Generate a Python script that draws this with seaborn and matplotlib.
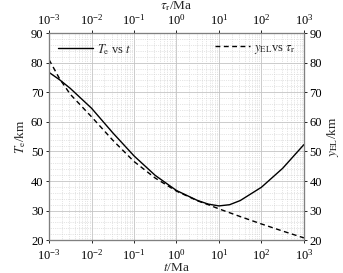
import numpy as np
import pandas as pd
import matplotlib
matplotlib.use("Agg")
import matplotlib.pyplot as plt
import seaborn as sns
from matplotlib.ticker import LogLocator, MultipleLocator

# Data (log10 of time in Ma, thickness in km)
t_log = [-3, -2.75, -2.5, -2, -1.5, -1, -0.5, 0, 0.5, 0.75, 1, 1.25, 1.5, 2, 2.5, 3]
Te_km = [76.7, 74.2, 71.3, 64.6, 56.3, 48.5, 41.9, 36.8, 33.4, 32.2, 31.6, 32.0, 33.4, 37.9, 44.3, 52.3]

tau_log = [-3, -2.75, -2.5, -2, -1.5, -1, -0.5, 0, 0.5, 0.75, 1, 1.5, 2, 2.5, 3]
yEL_km = [81.0, 74.5, 69.3, 61.7, 53.8, 46.6, 41.0, 36.6, 33.3, 32.0, 30.6, 28.0, 25.5, 23.1, 20.8]

x_ticks = [1e-3, 1e-2, 1e-1, 1e0, 1e1, 1e2, 1e3]
y_ticks = [20, 30, 40, 50, 60, 70, 80, 90]

df_t = pd.DataFrame({"t": np.power(10.0, t_log), "Te": Te_km})
df_tau = pd.DataFrame({"tau": np.power(10.0, tau_log), "yEL": yEL_km})

sns.set_style("ticks")
plt.rcParams["font.family"] = ["Liberation Serif", "DejaVu Serif"]
plt.rcParams["mathtext.fontset"] = "stix"
plt.rcParams["axes.unicode_minus"] = True

fig = plt.figure(figsize=(3.43, 2.73), dpi=100)
ax = fig.add_axes([0.143, 0.12, 0.743, 0.759])
axt = ax.twiny()
axr = axt.twinx()

fs = 9
spine_col = "#808080"

sns.lineplot(data=df_t, x="t", y="Te", ax=ax, color="black", lw=1.0,
             label=r"$T_{\mathrm{e}}$ vs $t$")
sns.lineplot(data=df_tau, x="tau", y="yEL", ax=axt, color="black", lw=1.0,
             linestyle=(0, (3.5, 2.5)), label=r"$y_{\mathrm{EL}}$vs $\tau_{\mathrm{r}}$")

for a in (ax, axt):
    a.set_xscale("log")
    a.set_xlim(1e-3, 1e3)
    a.set_xticks(x_ticks)
    a.xaxis.set_minor_locator(LogLocator(base=10, subs=np.arange(2, 10), numticks=20))
for a in (ax, axr):
    a.set_ylim(20, 90)
    a.set_yticks(y_ticks)
    a.yaxis.set_minor_locator(MultipleLocator(2))
axt.set_ylim(20, 90)

ax.grid(True, which="major", color="#c4c4c4", lw=0.6, ls="-")
ax.grid(True, which="minor", color="#cccccc", lw=0.5, ls=":")
ax.set_axisbelow(True)

for a in (ax, axt, axr):
    a.tick_params(which="major", labelsize=fs, length=2.5, width=0.6, colors="black",
                  pad=1.5, direction="out")
    a.tick_params(which="minor", length=0)
    for s in a.spines.values():
        s.set_color(spine_col)
        s.set_linewidth(0.8)
ax.tick_params(axis="x", which="major", pad=3)
axt.tick_params(axis="x", which="major", pad=1.5)
axt.tick_params(axis="y", left=False, labelleft=False, right=False, labelright=False)
axr.tick_params(axis="x", top=False, labeltop=False, bottom=False, labelbottom=False)

ax.set_xlabel(r"$t$/Ma", fontsize=fs + 0.5, labelpad=0)
ax.set_ylabel(r"$T_{\mathrm{e}}$/km", fontsize=fs + 0.5, labelpad=2)
axt.set_xlabel(r"$\tau_{\mathrm{r}}$/Ma", fontsize=fs + 0.5, va="bottom")
axt.xaxis.set_label_coords(0.5, 1.095)
axt.set_ylabel("")
axr.set_ylabel(r"$y_{\mathrm{EL}}$/km", fontsize=fs + 0.5, labelpad=2)

l1 = ax.legend(loc="upper left", frameon=False, fontsize=fs, handlelength=2.8,
               borderaxespad=0.3, handletextpad=0.3)
l2 = axt.legend(loc="upper right", frameon=False, fontsize=fs, handlelength=2.8,
                borderaxespad=0.3, handletextpad=0.3)

fig.savefig("out.png", dpi=100)
